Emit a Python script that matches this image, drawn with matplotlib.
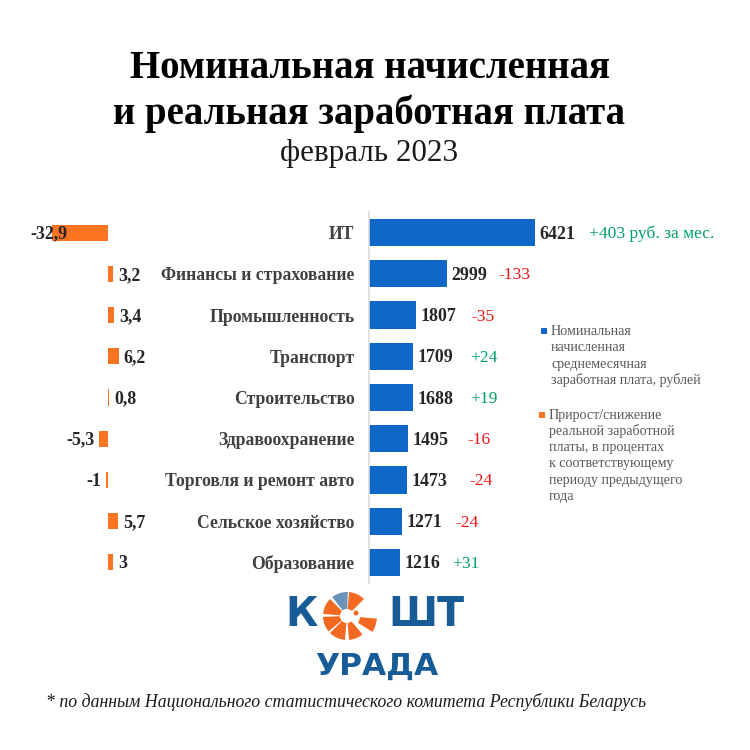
"""Номинальная и реальная зарплата по отраслям, февраль 2023."""

import matplotlib

matplotlib.use("Agg")
import matplotlib.pyplot as plt
from matplotlib.patches import Circle, Rectangle, Wedge

CATEGORIES = [
    "ИТ",
    "Финансы и страхование",
    "Промышленность",
    "Транспорт",
    "Строительство",
    "Здравоохранение",
    "Торговля и ремонт авто",
    "Сельское хозяйство",
    "Образование",
]
NOMINAL = [6421, 2999, 1807, 1709, 1688, 1495, 1473, 1271, 1216]
REAL_CHANGE = [-32.9, 3.2, 3.4, 6.2, 0.8, -5.3, -1, 5.7, 3]
REAL_LABELS = ["-32,9", "3,2", "3,4", "6,2", "0,8", "-5,3", "-1", "5,7", "3"]
DELTA_LABELS = ["+403 руб. за мес.", "-133", "-35", "+24", "+19", "-16", "-24", "-24", "+31"]

# px from the end of the blue bar to the start of the delta text
DELTA_OFFSET = [54, 51.5, 56, 57, 57, 60, 62, 54, 52]
# px from the end of the orange bar to its label
REAL_OFFSET = [15, 5, 5, 5, 5, -4, -5, 5, 5]

LEGEND_NOMINAL = [
    "Номинальная",
    "начисленная",
    "среднемесячная",
    "заработная плата, рублей",
]
LEGEND_REAL = [
    "Прирост/снижение",
    "реальной заработной",
    "платы, в процентах",
    "к соответствующему",
    "периоду предыдущего",
    "года",
]

BLUE = "#0f68c8"
ORANGE = "#fb7420"
GREEN = "#00a264"
RED = "#f01414"
DARK = "#262626"
LABEL_GREY = "#404040"
LEGEND_GREY = "#595959"
LOGO_BLUE = "#175c97"
LOGO_ORANGE = "#f26a21"

plt.rcParams["font.family"] = ["Liberation Serif", "DejaVu Serif"]

SIZE = 750
ROW_TOP, ROW_BOTTOM = 212, 583
TEXT_DROP = -1.5 * 0.72  # digits sit a little low against the bar centre


def axes_px(fig, left, right, top, bottom):
    return fig.add_axes(
        [left / SIZE, 1 - bottom / SIZE, (right - left) / SIZE, (bottom - top) / SIZE]
    )


fig = plt.figure(figsize=(7.5, 7.5), dpi=100, facecolor="white")
rows = list(range(len(CATEGORIES)))

# ----- blue bars, axis labels on the left of them -----
ax_nom = axes_px(fig, 369, 600, ROW_TOP, ROW_BOTTOM)
ax_nom.barh(rows, NOMINAL, height=0.66, color=BLUE)
ax_nom.set_xlim(0, 231 / (166 / 6421))
ax_nom.set_ylim(len(rows) - 0.5, -0.5)
ax_nom.set_yticks(rows, CATEGORIES, fontsize=12.7, fontweight="bold", color=LABEL_GREY)
ax_nom.tick_params(axis="y", length=0, pad=10.5)
ax_nom.xaxis.set_visible(False)
for name in ("top", "right", "bottom"):
    ax_nom.spines[name].set_visible(False)
ax_nom.spines["left"].set_color("#dcdcdc")
ax_nom.spines["left"].set_linewidth(1.2)
ax_nom.patch.set_alpha(0)

for row, value, delta, offset in zip(rows, NOMINAL, DELTA_LABELS, DELTA_OFFSET):
    ax_nom.annotate(
        str(value), (value, row), xytext=(4.5 * 0.72, TEXT_DROP), textcoords="offset points",
        ha="left", va="center", fontsize=12.9, fontweight="bold", color=DARK,
    )
    ax_nom.annotate(
        delta, (value, row), xytext=(offset * 0.72, TEXT_DROP), textcoords="offset points",
        ha="left", va="center", fontsize=12.6,
        color=GREEN if delta.startswith("+") else RED,
        annotation_clip=False,
    )

# ----- orange bars -----
ax_real = axes_px(fig, 20, 200, ROW_TOP, ROW_BOTTOM)
ax_real.barh(rows, REAL_CHANGE, height=0.39, color=ORANGE)
ax_real.set_xlim(-88 / 1.7, 92 / 1.7)
ax_real.set_ylim(len(rows) - 0.5, -0.5)
ax_real.axis("off")

for row, value, label, offset in zip(rows, REAL_CHANGE, REAL_LABELS, REAL_OFFSET):
    ax_real.annotate(
        label, (value, row), xytext=(offset * 0.72, TEXT_DROP), textcoords="offset points",
        ha="left" if value > 0 else "right", va="center",
        fontsize=12.9, fontweight="bold", color=DARK,
    )

# ----- overlay in pixel coordinates: titles, legend, logo -----
ov = fig.add_axes([0, 0, 1, 1])
ov.set_xlim(0, SIZE)
ov.set_ylim(SIZE, 0)
ov.axis("off")
ov.patch.set_alpha(0)

ov.text(370, 69, "Номинальная начисленная", ha="center", va="center",
        fontsize=27.9, fontweight="bold", color="black")
ov.text(369, 114, "и реальная заработная плата", ha="center", va="center",
        fontsize=27.9, fontweight="bold", color="black")
ov.text(369, 153, "февраль 2023", ha="center", va="center", fontsize=22.4, color="#1a1a1a")

ov.add_patch(Rectangle((541, 328), 6, 6, color=BLUE, lw=0))
for i, line in enumerate(LEGEND_NOMINAL):
    ov.text(551, 331.5 + i * 16.3, line, ha="left", va="center", fontsize=10.05, color=LEGEND_GREY)
ov.add_patch(Rectangle((539, 412), 6, 6, color=ORANGE, lw=0))
for i, line in enumerate(LEGEND_REAL):
    ov.text(549, 415 + i * 16.3, line, ha="left", va="center", fontsize=10.05, color=LEGEND_GREY)

# logo: К + sliced circle + ШТ, with УРАДА below
ov.text(285, 615, "К", ha="left", va="center", fontsize=28.5, fontweight="bold",
        family="DejaVu Sans", color=LOGO_BLUE)
ov.text(464, 615, "ШТ", ha="right", va="center", fontsize=28.5, fontweight="bold",
        family="DejaVu Sans", color=LOGO_BLUE)
ov.text(377, 666, "УРАДА", ha="center", va="center", fontsize=22.5, fontweight="bold",
        family="DejaVu Sans", color=LOGO_BLUE)
for start, end in [(-85, -45), (50, 85), (95, 135), (140, 178), (185, 225)]:
    ov.add_patch(Wedge((347, 616), 24, start, end, width=17, color=LOGO_ORANGE, lw=0))
ov.add_patch(Wedge((347, 616), 30, 5, 32, width=17, color=LOGO_ORANGE, lw=0))
ov.add_patch(Wedge((347, 616), 24, 232, 272, width=17, color="#6d94b8", lw=0))
ov.add_patch(Circle((356, 613), 2.5, color=LOGO_ORANGE, lw=0))

ov.text(346, 702, "* по данным Национального статистического комитета Республики Беларусь",
        ha="center", va="center", fontsize=12.75, style="italic", color="#1a1a1a")

fig.savefig("out.png", dpi=100)
